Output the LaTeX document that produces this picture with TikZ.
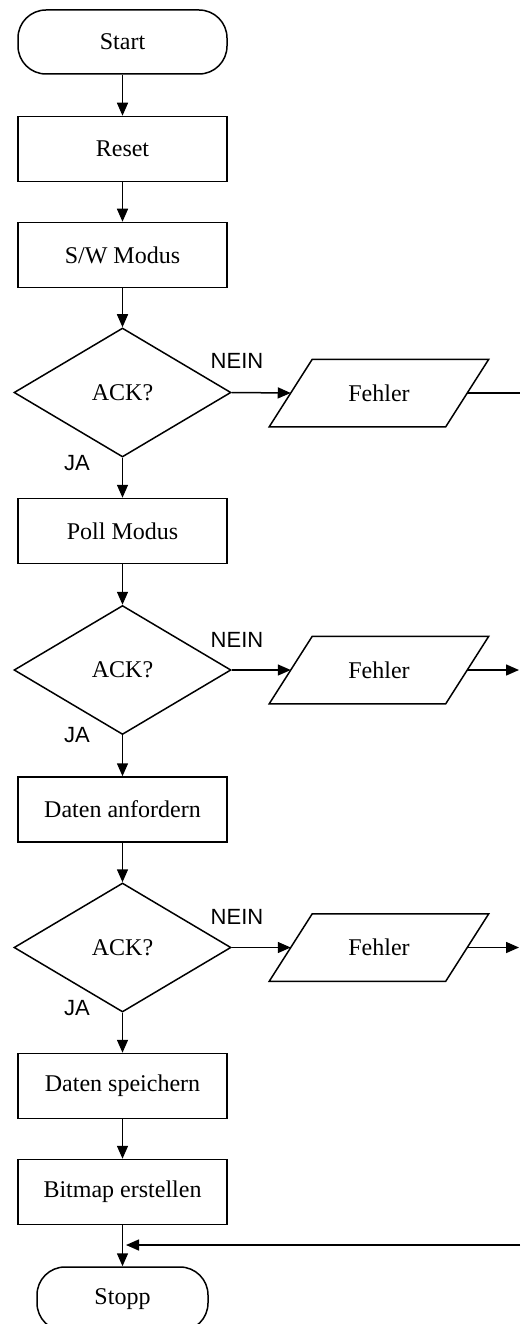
\documentclass[tikz,border=0pt]{standalone}
\usepackage{fontspec}
\setmainfont{Liberation Serif}
\newfontfamily\labelfont{Liberation Sans}
\usetikzlibrary{shapes.geometric,arrows.meta,calc}
\begin{document}
\begin{tikzpicture}[x=1pt,y=-1pt,
  line width=1.5pt,
  txt/.style={font=\fontsize{24}{28}\selectfont},
  proc/.style={draw, rectangle, minimum width=209pt, minimum height=65pt, inner sep=0pt, txt},
  term/.style={draw, rectangle, rounded corners=28pt, minimum height=64pt, inner sep=0pt, txt},
  dec/.style={draw, diamond, minimum width=217pt, minimum height=129pt, inner sep=0pt, txt},
  io/.style={rectangle, minimum width=175pt, minimum height=66pt, inner sep=0pt, txt},
  lbl/.style={font=\labelfont\fontsize{22}{24}\selectfont, inner sep=0pt},
  flow/.style={-{Triangle[length=13pt,width=11pt]}},
]
\useasboundingbox (0,0) rectangle (520,1324);

\node[term, minimum width=209pt] (start) at (122.5,42) {Start};
\node[proc] (reset) at (122.5,149) {Reset};
\node[proc] (sw) at (122.5,255) {S/W Modus};
\node[dec] (d1) at (122.5,392.5) {ACK?};
\node[io] (f1) at (379,393) {Fehler};
\node[proc] (poll) at (122.5,531) {Poll Modus};
\node[dec] (d2) at (122.5,670) {ACK?};
\node[io] (f2) at (379,670) {Fehler};
\node[proc] (anf) at (122.5,809.5) {Daten anfordern};
\node[dec] (d3) at (122.5,947.5) {ACK?};
\node[io] (f3) at (379,947.5) {Fehler};
\node[proc] (sp) at (122.5,1086) {Daten speichern};
\node[proc] (bm) at (122.5,1192) {Bitmap erstellen};
\node[term, minimum width=171pt] (stopp) at (122.5,1299) {Stopp};

\foreach \f in {f1,f2,f3}{
  \draw ($(\f.south west)+(-21.5,0)$) -- ($(\f.north west)+(21.5,0)$) -- ($(\f.north east)+(21.5,0)$) -- ($(\f.south east)+(-21.5,0)$) -- cycle;
}

\node[lbl] (n1) at (237,361) {NEIN};
\node[lbl] (n2) at (237,640) {NEIN};
\node[lbl] (n3) at (237,917) {NEIN};
\node[lbl] (j1) at (77,463) {JA};
\node[lbl] (j2) at (77,735) {JA};
\node[lbl] (j3) at (77,1008) {JA};

\coordinate (e1) at (520,393);
\coordinate (e2) at (519,670);
\coordinate (e3) at (519,947.5);
\coordinate (e4) at (520,1245);
\coordinate (m) at (126,1245);

\draw[flow] (start) -- (reset);
\draw[flow] (reset) -- (sw);
\draw[flow] (sw) -- (d1);
\draw[flow] (d1) -- (poll);
\draw[flow] (poll) -- (d2);
\draw[flow] (d2) -- (anf);
\draw[flow] (anf) -- (d3);
\draw[flow] (d3) -- (sp);
\draw[flow] (sp) -- (bm);
\draw[flow] (bm) -- (stopp);

\draw[flow] (d1.east) -- (f1.west);
\draw[flow] (d2.east) -- (f2.west);
\draw[flow] (d3.east) -- (f3.west);
\draw (f1.east) -- (e1);
\draw[flow] (f2.east) -- (e2);
\draw[flow] (f3.east) -- (e3);
\draw[flow] (e4) -- (m);
\end{tikzpicture}
\end{document}
